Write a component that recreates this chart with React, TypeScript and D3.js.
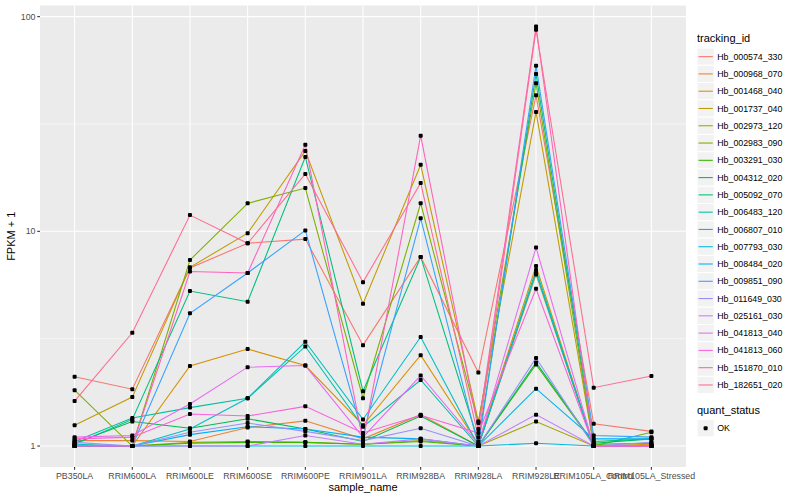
import * as d3 from 'd3';

const samples = [
	'PB350LA',
	'RRIM600LA',
	'RRIM600LE',
	'RRIM600SE',
	'RRIM600PE',
	'RRIM901LA',
	'RRIM928BA',
	'RRIM928LA',
	'RRIM928LE',
	'RRIM105LA_Control',
	'RRIM105LA_Stressed',
];

const trackingIds = [
	'Hb_000574_330',
	'Hb_000968_070',
	'Hb_001468_040',
	'Hb_001737_040',
	'Hb_002973_120',
	'Hb_002983_090',
	'Hb_003291_030',
	'Hb_004312_020',
	'Hb_005092_070',
	'Hb_006483_120',
	'Hb_006807_010',
	'Hb_007793_030',
	'Hb_008484_020',
	'Hb_009851_090',
	'Hb_011649_030',
	'Hb_025161_030',
	'Hb_041813_040',
	'Hb_041813_060',
	'Hb_151870_010',
	'Hb_182651_020',
];

// ggplot hue palette, 20 levels
const palette = [
	'#F8766D', '#EA8331', '#D89000', '#C09B00', '#A3A500',
	'#7CAE00', '#39B600', '#00BB4E', '#00BF7D', '#00C1A3',
	'#00BFC4', '#00BAE0', '#00B0F6', '#35A2FF', '#9590FF',
	'#C77CFF', '#E76BF3', '#FA62DB', '#FF62BC', '#FF6C91',
];

// FPKM + 1, one row per tracking_id, one column per sample
const fpkmPlusOne: number[][] = [
	[2.1, 1.84, 6.75, 8.8, 9.2, 2.95, 7.6, 2.2, 43, 1.27, 1.17],
	[1.06, 1.06, 1.05, 1.22, 1.31, 1.08, 1.4, 1.0, 6.3, 1.0, 1.0],
	[1.0, 1.0, 2.36, 2.83, 2.37, 1.25, 2.65, 1.02, 6.9, 1.0, 1.02],
	[1.25, 1.69, 6.8, 9.8, 23.7, 4.6, 20.4, 1.3, 36, 1.0, 1.0],
	[1.0, 1.0, 1.04, 1.05, 1.04, 1.02, 1.06, 1.0, 1.3, 1.0, 1.0],
	[1.82, 1.0, 7.35, 13.5, 15.9, 1.67, 13.5, 1.28, 49, 1.0, 1.16],
	[1.0, 1.0, 1.03, 1.04, 1.04, 1.02, 1.05, 1.0, 2.4, 1.02, 1.03],
	[1.03, 1.3, 1.21, 1.34, 1.2, 1.05, 1.38, 1.0, 2.45, 1.03, 1.08],
	[1.02, 1.33, 5.27, 4.7, 22.2, 1.8, 7.6, 1.05, 54, 1.05, 1.08],
	[1.05, 1.35, 1.51, 1.67, 2.91, 1.23, 2.03, 1.0, 6.6, 1.0, 1.0],
	[1.02, 1.0, 1.2, 1.67, 3.06, 1.33, 3.22, 1.0, 6.4, 1.0, 1.0],
	[1.0, 1.0, 1.0, 1.0, 1.0, 1.0, 1.0, 1.0, 1.03, 1.0, 1.0],
	[1.0, 1.0, 1.13, 1.23, 1.2, 1.1, 1.08, 1.0, 1.85, 1.08, 1.08],
	[1.0, 1.0, 4.15, 6.4, 10.1, 1.12, 11.5, 1.0, 59, 1.12, 1.1],
	[1.04, 1.0, 1.16, 1.28, 1.17, 1.06, 1.21, 1.0, 2.57, 1.0, 1.04],
	[1.0, 1.0, 1.0, 1.0, 1.12, 1.02, 1.08, 1.0, 1.4, 1.0, 1.0],
	[1.1, 1.12, 1.57, 2.33, 2.37, 1.1, 2.13, 1.02, 8.4, 1.0, 1.0],
	[1.08, 1.1, 1.41, 1.38, 1.53, 1.15, 1.39, 1.15, 5.4, 1.0, 1.0],
	[1.0, 1.0, 6.5, 6.4, 25.3, 1.05, 27.9, 1.2, 90, 1.0, 1.0],
	[1.62, 3.37, 11.9, 8.8, 18.5, 5.8, 16.8, 1.1, 87, 1.87, 2.12],
];

const yTicks = [1, 10, 100];
const yMinor = [Math.sqrt(10), Math.sqrt(1000)];

const W = 800;
const H = 500;
const panel = { left: 40, right: 686, top: 5.5, bottom: 467 };
const FONT = '"Liberation Sans", Arial, Helvetica, sans-serif';

export default function App() {
	// discrete x: 0.6 unit expansion on each side
	const x = d3
		.scalePoint<string>()
		.domain(samples)
		.range([panel.left, panel.right])
		.padding(0.6);

	const all = fpkmPlusOne.flat();
	const logExt = d3.extent(all.map((v) => Math.log10(v))) as [number, number];
	const pad = (logExt[1] - logExt[0]) * 0.05;
	const y = d3
		.scaleLog()
		.domain([10 ** (logExt[0] - pad), 10 ** (logExt[1] + pad)])
		.range([panel.bottom, panel.top]);

	const line = d3
		.line<number>()
		.x((_, i) => x(samples[i]) as number)
		.y((v) => y(v));

	const legendX = 697;
	const keySize = 17.28;
	const legendTop = 48;
	const qsTop = legendTop + trackingIds.length * keySize + 26;

	return (
		<svg
			width={W}
			height={H}
			style={{ position: 'absolute', left: 0, top: 0, fontFamily: FONT }}
		>
			<rect x={0} y={0} width={W} height={H} fill="#fff" />
			<rect
				x={panel.left}
				y={panel.top}
				width={panel.right - panel.left}
				height={panel.bottom - panel.top}
				fill="#EBEBEB"
			/>
			{yMinor.map((t) => (
				<line
					key={'m' + t}
					x1={panel.left}
					x2={panel.right}
					y1={y(t)}
					y2={y(t)}
					stroke="#fff"
					strokeWidth={0.53}
				/>
			))}
			{yTicks.map((t) => (
				<line
					key={'g' + t}
					x1={panel.left}
					x2={panel.right}
					y1={y(t)}
					y2={y(t)}
					stroke="#fff"
					strokeWidth={1.07}
				/>
			))}
			{samples.map((s) => (
				<line
					key={'gx' + s}
					x1={x(s)}
					x2={x(s)}
					y1={panel.top}
					y2={panel.bottom}
					stroke="#fff"
					strokeWidth={1.07}
				/>
			))}

			{fpkmPlusOne.map((row, i) => (
				<path
					key={'l' + i}
					d={line(row) as string}
					fill="none"
					stroke={palette[i]}
					strokeWidth={1.07}
				/>
			))}
			{fpkmPlusOne.map((row, i) =>
				row.map((v, j) => (
					<rect
						key={`p${i}-${j}`}
						x={(x(samples[j]) as number) - 2}
						y={y(v) - 2}
						width={4}
						height={4}
						rx={1}
						fill="#000"
					/>
				)),
			)}

			{/* y axis */}
			{yTicks.map((t) => (
				<g key={'yt' + t}>
					<line
						x1={panel.left - 2.75}
						x2={panel.left}
						y1={y(t)}
						y2={y(t)}
						stroke="#333"
						strokeWidth={1.07}
					/>
					<text
						x={panel.left - 4.5}
						y={y(t)}
						dy="0.35em"
						textAnchor="end"
						fontSize={8.8}
						fill="#4D4D4D"
					>
						{t}
					</text>
				</g>
			))}
			<text
				transform={`translate(15,${(panel.top + panel.bottom) / 2}) rotate(-90)`}
				textAnchor="middle"
				fontSize={11}
				fill="#000"
			>
				FPKM + 1
			</text>

			{/* x axis */}
			{samples.map((s) => (
				<g key={'xt' + s}>
					<line
						x1={x(s)}
						x2={x(s)}
						y1={panel.bottom}
						y2={panel.bottom + 2.75}
						stroke="#333"
						strokeWidth={1.07}
					/>
					<text
						x={x(s)}
						y={panel.bottom + 12}
						textAnchor="middle"
						fontSize={8.8}
						fill="#4D4D4D"
					>
						{s}
					</text>
				</g>
			))}
			<text
				x={(panel.left + panel.right) / 2}
				y={491}
				textAnchor="middle"
				fontSize={11}
				fill="#000"
			>
				sample_name
			</text>

			{/* legend: tracking_id */}
			<text x={legendX} y={legendTop - 6} fontSize={11} fill="#000">
				tracking_id
			</text>
			{trackingIds.map((id, i) => {
				const ky = legendTop + i * keySize;
				return (
					<g key={'lg' + id}>
						<rect
							x={legendX}
							y={ky}
							width={keySize}
							height={keySize}
							fill="#F2F2F2"
							stroke="#fff"
							strokeWidth={1}
						/>
						<line
							x1={legendX + 1.5}
							x2={legendX + keySize - 1.5}
							y1={ky + keySize / 2}
							y2={ky + keySize / 2}
							stroke={palette[i]}
							strokeWidth={1.07}
						/>
						<text
							x={legendX + keySize + 3}
							y={ky + keySize / 2}
							dy="0.35em"
							fontSize={8.8}
							fill="#000"
						>
							{id}
						</text>
					</g>
				);
			})}

			{/* legend: quant_status */}
			<text x={legendX} y={qsTop - 6} fontSize={11} fill="#000">
				quant_status
			</text>
			<rect
				x={legendX}
				y={qsTop}
				width={keySize}
				height={keySize}
				fill="#F2F2F2"
				stroke="#fff"
				strokeWidth={1}
			/>
			<rect
				x={legendX + keySize / 2 - 2}
				y={qsTop + keySize / 2 - 2}
				width={4}
				height={4}
				rx={1}
				fill="#000"
			/>
			<text
				x={legendX + keySize + 3}
				y={qsTop + keySize / 2}
				dy="0.35em"
				fontSize={8.8}
				fill="#000"
			>
				OK
			</text>
		</svg>
	);
}
